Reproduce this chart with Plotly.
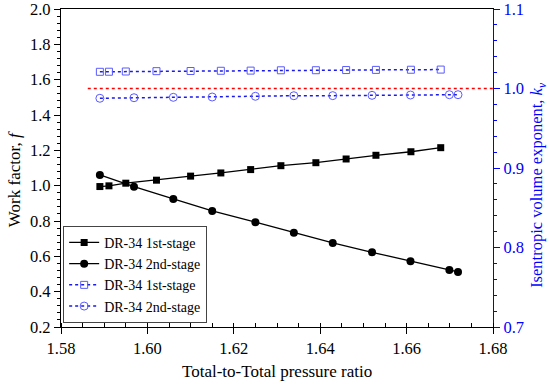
import plotly.graph_objects as go

# Work factor, 1st stage
x1 = [1.5890, 1.5911, 1.5950, 1.6021, 1.6100, 1.6170, 1.6239, 1.6309, 1.6390, 1.6460, 1.6529, 1.6610, 1.6679]
f1 = [0.995, 0.999, 1.014, 1.031, 1.054, 1.072, 1.091, 1.113, 1.130, 1.151, 1.172, 1.192, 1.215]
kv1 = [1.0210, 1.0211, 1.0214, 1.0218, 1.0220, 1.0223, 1.0225, 1.0229, 1.0230, 1.0232, 1.0234, 1.0236, 1.0238]

# Work factor, 2nd stage
x2 = [1.5890, 1.5969, 1.6060, 1.6150, 1.6250, 1.6339, 1.6429, 1.6520, 1.6609, 1.6699, 1.6719]
f2 = [1.061, 0.994, 0.925, 0.857, 0.793, 0.734, 0.676, 0.623, 0.572, 0.523, 0.512]
kv2 = [0.9877, 0.9884, 0.9889, 0.9893, 0.9902, 0.9909, 0.9910, 0.9914, 0.9918, 0.9922, 0.9922]

ref_x = [1.5862, 1.68]
ref_kv = [1.0, 1.0]

FONT = "Liberation Serif"
BLUE = "#0000FF"
LBLUE = "#5A5AFF"
TICKSIZE = 16.5

fig = go.Figure()
fig.add_trace(go.Scatter(x=x1, y=f1, mode="lines+markers", name="DR-34 1st-stage",
                         line=dict(color="black", width=1.3),
                         marker=dict(symbol="square", size=7, color="black")))
fig.add_trace(go.Scatter(x=x2, y=f2, mode="lines+markers", name="DR-34 2nd-stage",
                         line=dict(color="black", width=1.3),
                         marker=dict(symbol="circle", size=8, color="black")))
fig.add_trace(go.Scatter(x=x1, y=kv1, mode="lines+markers", name="DR-34 1st-stage", yaxis="y2",
                         line=dict(color="#1a1aee", width=1.5, dash="dot"),
                         marker=dict(symbol="square-open", size=7, color=LBLUE, line=dict(width=1))))
fig.add_trace(go.Scatter(x=x2, y=kv2, mode="lines+markers", name="DR-34 2nd-stage", yaxis="y2",
                         line=dict(color="#1a1aee", width=1.5, dash="dot"),
                         marker=dict(symbol="circle-open", size=8, color=LBLUE, line=dict(width=1))))
fig.add_trace(go.Scatter(x=ref_x, y=ref_kv, mode="lines", yaxis="y2", showlegend=False,
                         line=dict(color="red", width=1.5, dash="dot")))

fig.update_layout(
    width=550, height=386,
    margin=dict(l=61, r=57, t=9, b=59),
    paper_bgcolor="white", plot_bgcolor="white",
    font=dict(family=FONT, size=15, color="black"),
    xaxis=dict(range=[1.58, 1.68], dtick=0.02, tickformat=".2f", automargin=False,
               ticklabeloverflow="allow",
               showline=True, linecolor="black", linewidth=1.3, mirror=True,
               ticks="outside", ticklen=6, tickcolor="black", showgrid=False, zeroline=False,
               tickfont=dict(family=FONT, size=TICKSIZE, color="black"),
               minor=dict(dtick=0.005, ticks="inside", ticklen=4, tickcolor="black")),
    yaxis=dict(range=[0.2, 2.0], dtick=0.2, tickformat=".1f", automargin=False,
               ticklabeloverflow="allow",
               showline=True, linecolor="black", linewidth=1.3,
               ticks="outside", ticklen=6, tickcolor="black", showgrid=False, zeroline=False,
               tickfont=dict(family=FONT, size=TICKSIZE, color="black"),
               minor=dict(dtick=0.04, ticks="outside", ticklen=3, tickcolor="black")),
    yaxis2=dict(range=[0.7, 1.1], dtick=0.1, tickformat=".1f", overlaying="y", side="right",
                automargin=False, ticklabeloverflow="allow",
                showline=True, linecolor=BLUE, linewidth=1.3,
                ticks="outside", ticklen=6, tickcolor=BLUE, showgrid=False, zeroline=False,
                tickfont=dict(family=FONT, color=BLUE, size=TICKSIZE),
                minor=dict(dtick=0.02, ticks="outside", ticklen=3, tickcolor=BLUE)),
    legend=dict(x=0.005, y=0.013, xanchor="left", yanchor="bottom",
                bordercolor="#444444", borderwidth=1, bgcolor="white",
                font=dict(family=FONT, size=14), tracegroupgap=0, itemwidth=30),
    showlegend=True,
    annotations=[
        dict(text="Total-to-Total pressure ratio", xref="paper", yref="paper",
             x=0.5, y=-0.1415, xanchor="center", yanchor="middle", showarrow=False,
             font=dict(family=FONT, size=17, color="black")),
        dict(text="Work factor, <i>f</i>", xref="paper", yref="paper",
             x=-0.1088, y=0.465, xanchor="center", yanchor="middle", textangle=-90,
             showarrow=False, font=dict(family=FONT, size=17, color="black")),
        dict(text="Isentropic volume exponent, <i>k</i><sub><i>v</i></sub>", xref="paper", yref="paper",
             x=1.1019, y=0.447, xanchor="center", yanchor="middle", textangle=-90,
             showarrow=False, font=dict(family=FONT, size=16.5, color=BLUE)),
    ],
)

fig.write_html("out.html", config={"displayModeBar": False},
               post_script="document.body.style.margin='0';")
